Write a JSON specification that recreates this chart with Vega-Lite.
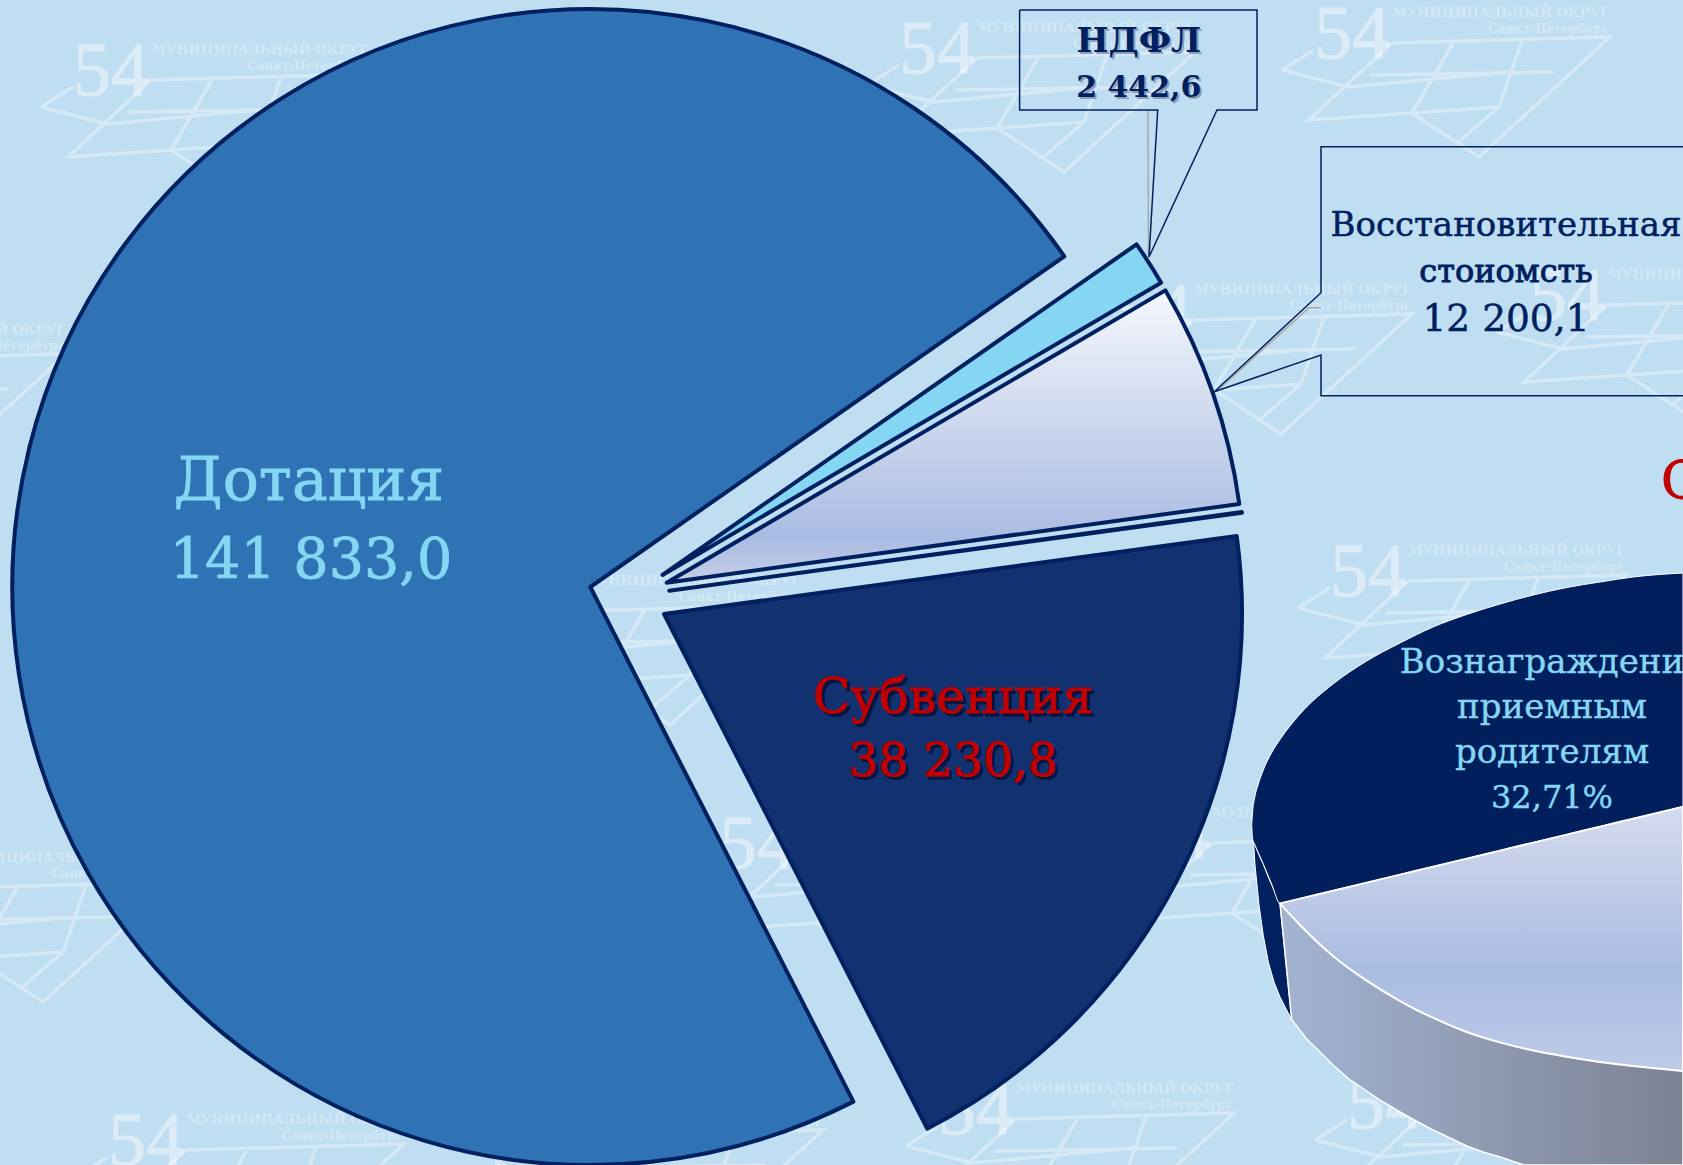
{"$schema":"https://vega.github.io/schema/vega-lite/v6.json","width":1683,"height":1165,"padding":0,"autosize":{"type":"none"},"background":"#BFDEF2","config":{"view":{"stroke":null}},
"datasets":{
"slices":[{"name":"Дотация","value":141833.0,"order":1},{"name":"НДФЛ","value":2442.6,"order":2},{"name":"Восстановительная стоимость","value":12200.1,"order":3},{"name":"Прочее","value":40,"order":4},{"name":"Субвенция","value":38230.8,"order":5}],
"logos":[{"x":73,"y":42},{"x":899,"y":20},{"x":1314,"y":5},{"x":1116,"y":282},{"x":1529,"y":267},{"x":-230,"y":322},{"x":1330,"y":543},{"x":505,"y":573},{"x":108,"y":1112},{"x":938,"y":1081},{"x":1347,"y":1075},{"x":-122,"y":850},{"x":719,"y":815},{"x":1134,"y":805},{"x":527,"y":1098}],
"wallDark":[{"x":1253.3,"y":838,"y2":838},{"x":1255,"y":845,"y2":865},{"x":1259,"y":855,"y2":905},{"x":1263.3,"y":864,"y2":935.5},{"x":1268.3,"y":877,"y2":962},{"x":1274,"y":890,"y2":982},{"x":1280,"y":903.4,"y2":997},{"x":1291.7,"y":1019.8,"y2":1019.8}],
"wall":[{"x":1280,"y":903.4,"y2":903.4},{"x":1291.7,"y":916,"y2":1019.8},{"x":1306.7,"y":931,"y2":1039},{"x":1320,"y":944,"y2":1052},{"x":1333,"y":956,"y2":1065},{"x":1350,"y":969,"y2":1080},{"x":1366.7,"y":980.7,"y2":1091},{"x":1383,"y":991,"y2":1102},{"x":1400,"y":1001,"y2":1112},{"x":1416,"y":1010,"y2":1121},{"x":1433,"y":1017.7,"y2":1130},{"x":1450,"y":1025,"y2":1138},{"x":1466.7,"y":1032,"y2":1146},{"x":1483,"y":1037,"y2":1152},{"x":1500,"y":1042.4,"y2":1157},{"x":1524,"y":1048,"y2":1165},{"x":1566.7,"y":1056.8,"y2":1165},{"x":1600,"y":1062,"y2":1165},{"x":1683,"y":1071,"y2":1165}],
"topDark":[{"x":1251.7,"y":824.4,"y2":824.4},{"x":1252.5,"y":813,"y2":838},{"x":1255,"y":796,"y2":845},{"x":1258,"y":785,"y2":852},{"x":1263.3,"y":770,"y2":864},{"x":1272,"y":752,"y2":885},{"x":1280,"y":739.5,"y2":903.4},{"x":1300,"y":714,"y2":898.6},{"x":1333,"y":684,"y2":890.7},{"x":1366.7,"y":661,"y2":882.6},{"x":1400,"y":643,"y2":874.6},{"x":1433,"y":627,"y2":866.7},{"x":1466.7,"y":614.5,"y2":858.6},{"x":1500,"y":604,"y2":850.6},{"x":1533.3,"y":595,"y2":842.6},{"x":1566.7,"y":587.5,"y2":834.6},{"x":1600,"y":582,"y2":826.6},{"x":1633,"y":577,"y2":818.7},{"x":1683,"y":573,"y2":806.7}],
"topLight":[{"x":1280,"y":903.4,"y2":903.4},{"x":1300,"y":898.6,"y2":925},{"x":1333,"y":890.7,"y2":956},{"x":1366.7,"y":882.6,"y2":980.7},{"x":1400,"y":874.6,"y2":1001},{"x":1433,"y":866.7,"y2":1017.7},{"x":1466.7,"y":858.6,"y2":1032},{"x":1500,"y":850.6,"y2":1042.4},{"x":1533.3,"y":842.6,"y2":1050.6},{"x":1566.7,"y":834.6,"y2":1056.8},{"x":1600,"y":826.6,"y2":1062},{"x":1633,"y":818.7,"y2":1066},{"x":1683,"y":806.7,"y2":1071}],
"callouts":[{"c":"a","o":1,"x":1019.6,"y":10},{"c":"a","o":2,"x":1257,"y":10},{"c":"a","o":3,"x":1257,"y":110},{"c":"a","o":4,"x":1217,"y":110},{"c":"a","o":5,"x":1149,"y":257},{"c":"a","o":6,"x":1157.7,"y":110},{"c":"a","o":7,"x":1019.6,"y":110},{"c":"a","o":8,"x":1019.6,"y":10},
{"c":"b","o":1,"x":1700,"y":146.7},{"c":"b","o":2,"x":1321,"y":146.7},{"c":"b","o":3,"x":1321,"y":292.7},{"c":"b","o":4,"x":1214.3,"y":391.7},{"c":"b","o":5,"x":1321,"y":355},{"c":"b","o":6,"x":1321,"y":395.7},{"c":"b","o":7,"x":1700,"y":395.7}],
"calloutShadow":[{"c":"a","o":1,"x":1148,"y":110},{"c":"a","o":2,"x":1148.5,"y":257},{"c":"b","o":1,"x":1321,"y":307.7},{"c":"b","o":2,"x":1309,"y":307.7},{"c":"b","o":3,"x":1216,"y":391.7}]
},
"layer":[
{"data":{"name":"logos"},"mark":{"type":"point","shape":"M-32 65L0 45M78 38L296 32L165 152L98 108L-5 115L78 38M-32 65L34 82L196 67M56 70L239 67M139 38L98 108M208 35L185 102L143 138M185 102L98 108","size":4,"filled":false,"stroke":"#FFFFFF","strokeOpacity":0.5,"strokeWidth":3.5,"clip":true},"encoding":{"x":{"field":"x","type":"quantitative","scale":{"domain":[0,1683],"range":[0,1683],"nice":false,"zero":false},"axis":null},"y":{"field":"y","type":"quantitative","scale":{"domain":[0,1165],"range":[0,1165],"nice":false,"zero":false},"axis":null}}},
{"data":{"name":"logos"},"mark":{"type":"text","text":"54","font":"Liberation Serif","fontSize":76,"align":"left","baseline":"alphabetic","dy":53,"fill":"#FFFFFF","stroke":"#FFFFFF","strokeWidth":1,"opacity":0.45,"clip":true},"encoding":{"x":{"field":"x","type":"quantitative"},"y":{"field":"y","type":"quantitative"}}},
{"data":{"name":"logos"},"mark":{"type":"text","text":"МУНИЦИПАЛЬНЫЙ ОКРУГ","font":"DejaVu Serif","fontWeight":"bold","fontSize":13,"align":"right","baseline":"alphabetic","dx":295,"dy":12,"fill":"#FFFFFF","opacity":0.3,"clip":true},"encoding":{"x":{"field":"x","type":"quantitative"},"y":{"field":"y","type":"quantitative"}}},
{"data":{"name":"logos"},"mark":{"type":"text","text":"Санкт-Петербург","font":"DejaVu Serif","fontWeight":"bold","fontSize":12,"align":"right","baseline":"alphabetic","dx":295,"dy":28,"fill":"#FFFFFF","opacity":0.3,"clip":true},"encoding":{"x":{"field":"x","type":"quantitative"},"y":{"field":"y","type":"quantitative"}}},

{"data":{"name":"slices"},"transform":[{"stack":"value","groupby":[],"sort":[{"field":"order","order":"ascending"}],"as":["start","end"]},{"filter":"datum.order==1"}],"mark":{"type":"arc","outerRadius":578,"fill":"#2F73B5","stroke":"#00205F","strokeWidth":4,"strokeJoin":"round"},"encoding":{"x":{"datum":590.3},"y":{"datum":587},"theta":{"field":"start","type":"quantitative","scale":{"domain":[0,194746.5],"range":[2.669,8.952],"nice":false,"zero":false},"stack":null},"theta2":{"field":"end"}}},
{"data":{"name":"slices"},"transform":[{"stack":"value","groupby":[],"sort":[{"field":"order","order":"ascending"}],"as":["start","end"]},{"filter":"datum.order==2"}],"mark":{"type":"arc","outerRadius":578,"fill":"#85D6F3","stroke":"#00205F","strokeWidth":4,"strokeJoin":"round"},"encoding":{"x":{"datum":662.5},"y":{"datum":575},"theta":{"field":"start","type":"quantitative","stack":null},"theta2":{"field":"end"}}},
{"data":{"name":"slices"},"transform":[{"stack":"value","groupby":[],"sort":[{"field":"order","order":"ascending"}],"as":["start","end"]},{"filter":"datum.order==3"}],"mark":{"type":"arc","outerRadius":578,"fill":{"gradient":"linear","x1":0,"y1":0,"x2":0,"y2":1,"stops":[{"offset":0,"color":"#F5F7FC"},{"offset":0.85,"color":"#A9BCE2"},{"offset":1,"color":"#C5CEE8"}]},"stroke":"#00205F","strokeWidth":4,"strokeJoin":"round"},"encoding":{"x":{"datum":666.7},"y":{"datum":582.7},"theta":{"field":"start","type":"quantitative","stack":null},"theta2":{"field":"end"}}},
{"data":{"name":"slices"},"transform":[{"stack":"value","groupby":[],"sort":[{"field":"order","order":"ascending"}],"as":["start","end"]},{"filter":"datum.order==4"}],"mark":{"type":"arc","outerRadius":578,"fill":"#00205F","stroke":"#00205F","strokeWidth":4,"strokeJoin":"round"},"encoding":{"x":{"datum":669.3},"y":{"datum":590.7},"theta":{"field":"start","type":"quantitative","stack":null},"theta2":{"field":"end"}}},
{"data":{"name":"slices"},"transform":[{"stack":"value","groupby":[],"sort":[{"field":"order","order":"ascending"}],"as":["start","end"]},{"filter":"datum.order==5"}],"mark":{"type":"arc","outerRadius":578,"fill":"#0C2B6B","fillOpacity":0.97,"stroke":"#00205F","strokeWidth":4,"strokeJoin":"round"},"encoding":{"x":{"datum":664},"y":{"datum":614},"theta":{"field":"start","type":"quantitative","stack":null},"theta2":{"field":"end"}}},

{"data":{"name":"wallDark"},"mark":{"type":"area","fill":"#00205F","stroke":"#FFFFFF","strokeWidth":1},"encoding":{"x":{"field":"x","type":"quantitative"},"y":{"field":"y","type":"quantitative"},"y2":{"field":"y2"}}},
{"data":{"name":"wall"},"mark":{"type":"area","fill":{"gradient":"linear","x1":0,"y1":0,"x2":1,"y2":0,"stops":[{"offset":0,"color":"#A3B4D3"},{"offset":1,"color":"#7B8292"}]},"stroke":"#FFFFFF","strokeWidth":1.5},"encoding":{"x":{"field":"x","type":"quantitative"},"y":{"field":"y","type":"quantitative"},"y2":{"field":"y2"}}},
{"data":{"name":"topDark"},"mark":{"type":"area","interpolate":"monotone","fill":"#001F5C","stroke":"#FFFFFF","strokeWidth":1},"encoding":{"x":{"field":"x","type":"quantitative"},"y":{"field":"y","type":"quantitative"},"y2":{"field":"y2"}}},
{"data":{"name":"topLight"},"mark":{"type":"area","interpolate":"monotone","fill":{"gradient":"linear","x1":0,"y1":0,"x2":0,"y2":1,"stops":[{"offset":0,"color":"#D5DBEF"},{"offset":0.62,"color":"#A9BCE1"},{"offset":1,"color":"#BDCBE8"}]},"stroke":"#FFFFFF","strokeWidth":2},"encoding":{"x":{"field":"x","type":"quantitative"},"y":{"field":"y","type":"quantitative"},"y2":{"field":"y2"}}},

{"data":{"name":"calloutShadow"},"mark":{"type":"line","stroke":"#A8A8A8","strokeWidth":1.5},"encoding":{"x":{"field":"x","type":"quantitative"},"y":{"field":"y","type":"quantitative"},"detail":{"field":"c"},"order":{"field":"o"}}},
{"data":{"name":"callouts"},"mark":{"type":"line","stroke":"#00205F","strokeWidth":1.5,"strokeJoin":"miter"},"encoding":{"x":{"field":"x","type":"quantitative"},"y":{"field":"y","type":"quantitative"},"detail":{"field":"c"},"order":{"field":"o"}}},

{"data":{"values":[{"t":"Дотация","x":309,"y":500}]},"mark":{"type":"text","font":"DejaVu Serif","fontSize":60,"fill":"#85D6F3","stroke":"#85D6F3","strokeWidth":0.8,"baseline":"alphabetic"},"encoding":{"x":{"field":"x","type":"quantitative"},"y":{"field":"y","type":"quantitative"},"text":{"field":"t"}}},
{"data":{"values":[{"t":"141 833,0","x":311,"y":578}]},"mark":{"type":"text","font":"DejaVu Serif","fontSize":55.5,"fill":"#85D6F3","stroke":"#85D6F3","strokeWidth":0.8,"baseline":"alphabetic"},"encoding":{"x":{"field":"x","type":"quantitative"},"y":{"field":"y","type":"quantitative"},"text":{"field":"t"}}},

{"data":{"values":[{"t":"Субвенция","x":953,"y":713}]},"mark":{"type":"text","font":"DejaVu Serif","fontSize":49,"fill":"#000B2E","stroke":"#000B2E","strokeWidth":1,"opacity":0.7,"baseline":"alphabetic","dx":3,"dy":3},"encoding":{"x":{"field":"x","type":"quantitative"},"y":{"field":"y","type":"quantitative"},"text":{"field":"t"}}},
{"data":{"values":[{"t":"38 230,8","x":953,"y":776}]},"mark":{"type":"text","font":"DejaVu Serif","fontSize":47,"fill":"#000B2E","stroke":"#000B2E","strokeWidth":1,"opacity":0.7,"baseline":"alphabetic","dx":3,"dy":3},"encoding":{"x":{"field":"x","type":"quantitative"},"y":{"field":"y","type":"quantitative"},"text":{"field":"t"}}},
{"data":{"values":[{"t":"Субвенция","x":953,"y":713}]},"mark":{"type":"text","font":"DejaVu Serif","fontSize":49,"fill":"#C00000","stroke":"#C00000","strokeWidth":1,"baseline":"alphabetic"},"encoding":{"x":{"field":"x","type":"quantitative"},"y":{"field":"y","type":"quantitative"},"text":{"field":"t"}}},
{"data":{"values":[{"t":"38 230,8","x":953,"y":776}]},"mark":{"type":"text","font":"DejaVu Serif","fontSize":47,"fill":"#C00000","stroke":"#C00000","strokeWidth":1,"baseline":"alphabetic"},"encoding":{"x":{"field":"x","type":"quantitative"},"y":{"field":"y","type":"quantitative"},"text":{"field":"t"}}},

{"data":{"values":[{"t":"НДФЛ","x":1138.8,"y":52}]},"mark":{"type":"text","font":"DejaVu Serif","fontWeight":"bold","fontSize":34,"fill":"#7F8FA8","opacity":0.8,"baseline":"alphabetic","dx":2,"dy":2},"encoding":{"x":{"field":"x","type":"quantitative"},"y":{"field":"y","type":"quantitative"},"text":{"field":"t"}}},
{"data":{"values":[{"t":"2 442,6","x":1138.8,"y":97}]},"mark":{"type":"text","font":"DejaVu Serif","fontWeight":"bold","fontSize":30,"fill":"#7F8FA8","opacity":0.8,"baseline":"alphabetic","dx":2,"dy":2},"encoding":{"x":{"field":"x","type":"quantitative"},"y":{"field":"y","type":"quantitative"},"text":{"field":"t"}}},
{"data":{"values":[{"t":"НДФЛ","x":1138.8,"y":52}]},"mark":{"type":"text","font":"DejaVu Serif","fontWeight":"bold","fontSize":34,"fill":"#00205F","baseline":"alphabetic"},"encoding":{"x":{"field":"x","type":"quantitative"},"y":{"field":"y","type":"quantitative"},"text":{"field":"t"}}},
{"data":{"values":[{"t":"2 442,6","x":1138.8,"y":97}]},"mark":{"type":"text","font":"DejaVu Serif","fontWeight":"bold","fontSize":30,"fill":"#00205F","baseline":"alphabetic"},"encoding":{"x":{"field":"x","type":"quantitative"},"y":{"field":"y","type":"quantitative"},"text":{"field":"t"}}},

{"data":{"values":[{"t":"Восстановительная","x":1506,"y":236}]},"mark":{"type":"text","font":"DejaVu Serif","fontSize":34,"fill":"#00205F","stroke":"#00205F","strokeWidth":0.5,"baseline":"alphabetic"},"encoding":{"x":{"field":"x","type":"quantitative"},"y":{"field":"y","type":"quantitative"},"text":{"field":"t"}}},
{"data":{"values":[{"t":"стоиомсть","x":1506,"y":282}]},"mark":{"type":"text","font":"DejaVu Serif","fontSize":32,"fill":"#00205F","stroke":"#00205F","strokeWidth":0.9,"baseline":"alphabetic"},"encoding":{"x":{"field":"x","type":"quantitative"},"y":{"field":"y","type":"quantitative"},"text":{"field":"t"}}},
{"data":{"values":[{"t":"12 200,1","x":1506,"y":331}]},"mark":{"type":"text","font":"DejaVu Serif","fontSize":37.5,"fill":"#00205F","stroke":"#00205F","strokeWidth":0.5,"baseline":"alphabetic"},"encoding":{"x":{"field":"x","type":"quantitative"},"y":{"field":"y","type":"quantitative"},"text":{"field":"t"}}},

{"data":{"values":[{"t":"С","x":1661,"y":498}]},"mark":{"type":"text","font":"DejaVu Serif","fontSize":52,"fill":"#C00000","stroke":"#C00000","strokeWidth":0.8,"align":"left","baseline":"alphabetic"},"encoding":{"x":{"field":"x","type":"quantitative"},"y":{"field":"y","type":"quantitative"},"text":{"field":"t"}}},

{"data":{"values":[{"t":"Вознаграждение","x":1552,"y":673},{"t":"приемным","x":1552,"y":718},{"t":"родителям","x":1552,"y":763}]},"mark":{"type":"text","font":"DejaVu Serif","fontSize":34,"fill":"#85D6F3","stroke":"#85D6F3","strokeWidth":0.4,"baseline":"alphabetic"},"encoding":{"x":{"field":"x","type":"quantitative"},"y":{"field":"y","type":"quantitative"},"text":{"field":"t"}}},
{"data":{"values":[{"t":"32,71%","x":1552,"y":808}]},"mark":{"type":"text","font":"DejaVu Serif","fontSize":32,"fill":"#85D6F3","stroke":"#85D6F3","strokeWidth":0.4,"baseline":"alphabetic"},"encoding":{"x":{"field":"x","type":"quantitative"},"y":{"field":"y","type":"quantitative"},"text":{"field":"t"}}}
]}
